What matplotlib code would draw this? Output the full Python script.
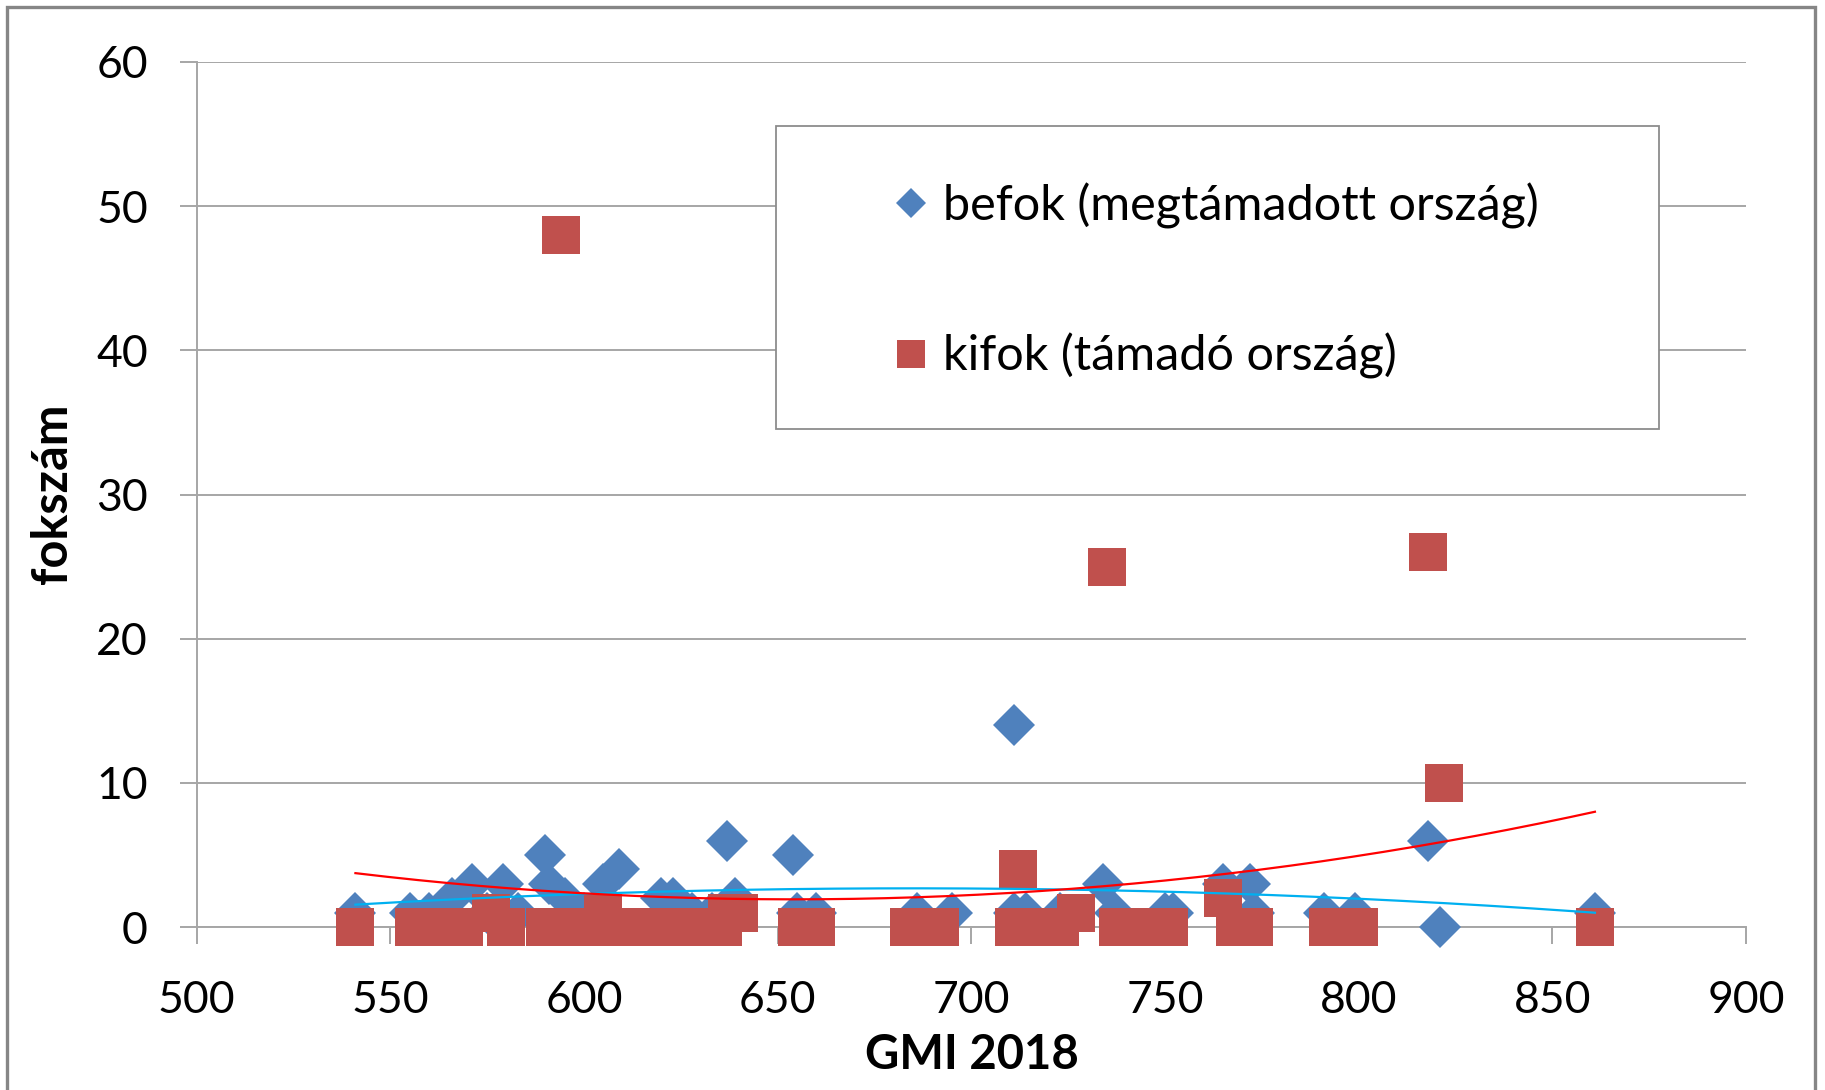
import numpy as np
import matplotlib
matplotlib.use('Agg')
import matplotlib.pyplot as plt
from matplotlib.patches import Rectangle

plt.rcParams['font.family'] = ['Lato', 'DejaVu Sans']

# befok (megtámadott ország) - GMI 2018 and in-degree
befok_gmi = [541, 555, 560, 566, 571, 575, 579, 583, 590, 591, 595, 600, 605, 609,
             620, 623, 628, 633, 637, 639, 654, 655, 660, 686, 695, 711, 711, 714,
             723, 734, 737, 750, 752, 765, 772, 773, 791, 799, 818, 821, 861]
befok = [1, 1, 1, 2, 3, 1, 3, 1, 5, 3, 2, 1, 3, 4,
         2, 2, 1, 1, 6, 2, 5, 1, 1, 1, 1, 14, 1, 1,
         1, 3, 1, 1, 1, 3, 3, 1, 1, 1, 6, 0, 1]

# kifok (támadó ország) - GMI 2018 and out-degree
kifok_gmi = [541, 556, 563, 569, 576, 580, 590, 594, 597, 604, 605, 608, 612, 620,
             625, 630, 636, 637, 640, 655, 660, 684, 692, 711, 712, 718, 723, 727,
             735, 738, 745, 751, 765, 768, 773, 792, 800, 818, 822, 861]
kifok = [0, 0, 0, 0, 1, 0, 0, 48, 0, 0, 1, 0, 0, 0,
         0, 0, 0, 1, 1, 0, 0, 0, 0, 0, 4, 0, 0, 1,
         25, 0, 0, 0, 2, 0, 0, 0, 0, 26, 10, 0]

blue = '#4F81BD'
red = '#C0504D'
grid_c = '#A6A6A6'

fig = plt.figure(figsize=(18.25, 10.9), dpi=100)
ax = fig.add_axes([196.6 / 1825, 1 - 927 / 1090, 1549.4 / 1825, 865 / 1090])

ax.plot(befok_gmi, befok, linestyle='none', marker='D', markersize=21.4, clip_on=False,
        color=blue, markeredgewidth=0, label='befok (megtámadott ország)', zorder=3)
ax.plot(kifok_gmi, kifok, linestyle='none', marker='s', markersize=28, clip_on=False,
        color=red, markeredgewidth=0, label='kifok (támadó ország)', zorder=4)

# polynomial (order 2) trendlines
xb = np.linspace(min(befok_gmi), max(befok_gmi), 200)
ax.plot(xb, np.polyval(np.polyfit(befok_gmi, befok, 2), xb), color='#00B0F0', lw=1.6, zorder=5)
xk = np.linspace(min(kifok_gmi), max(kifok_gmi), 200)
ax.plot(xk, np.polyval(np.polyfit(kifok_gmi, kifok, 2), xk), color='#FF0000', lw=1.6, zorder=5)

ax.set_xlim(500, 900)
ax.set_ylim(0, 60)
ax.set_xticks(range(500, 901, 50))
ax.set_yticks(range(0, 61, 10))
ax.grid(axis='y', color=grid_c, lw=1.4, zorder=0)
ax.set_axisbelow(True)
for s in ['top', 'right']:
    ax.spines[s].set_visible(False)
for s in ['left', 'bottom']:
    ax.spines[s].set_color(grid_c)
    ax.spines[s].set_linewidth(1.4)
    ax.spines[s].set_zorder(1)
ax.tick_params(axis='y', length=12, width=1.4, color=grid_c, pad=23, labelsize=32)
ax.tick_params(axis='x', length=12.5, width=1.4, color=grid_c, pad=25.5, labelsize=32)

fig.text(52 / 1825, 1 - 494 / 1090, 'fokszám', rotation=90, ha='center', va='center',
         fontsize=35, fontweight='bold')
fig.text(972 / 1825, 1 - 1055 / 1090, 'GMI 2018', ha='center', va='center',
         fontsize=34, fontweight='bold')

# legend box
ax.add_patch(Rectangle((0.374, 0.576), 0.570, 0.350, transform=ax.transAxes,
                       facecolor='white', edgecolor='#8C8C8C', lw=1.3, zorder=6))
leg = ax.legend(loc='center left', bbox_to_anchor=(0.4345, 0.747), frameon=False,
                fontsize=35, handlelength=0.7, handletextpad=0.3, labelspacing=2.15,
                markerscale=0.72, borderpad=0)
leg.set_zorder(7)

# chart border
fig.patches.append(Rectangle((7 / 1825, -0.05), (1815 - 7) / 1825, 1.05 - 7 / 1090,
                             transform=fig.transFigure, fill=False,
                             edgecolor='#868686', lw=2.4))

fig.savefig('out.png', dpi=100)
